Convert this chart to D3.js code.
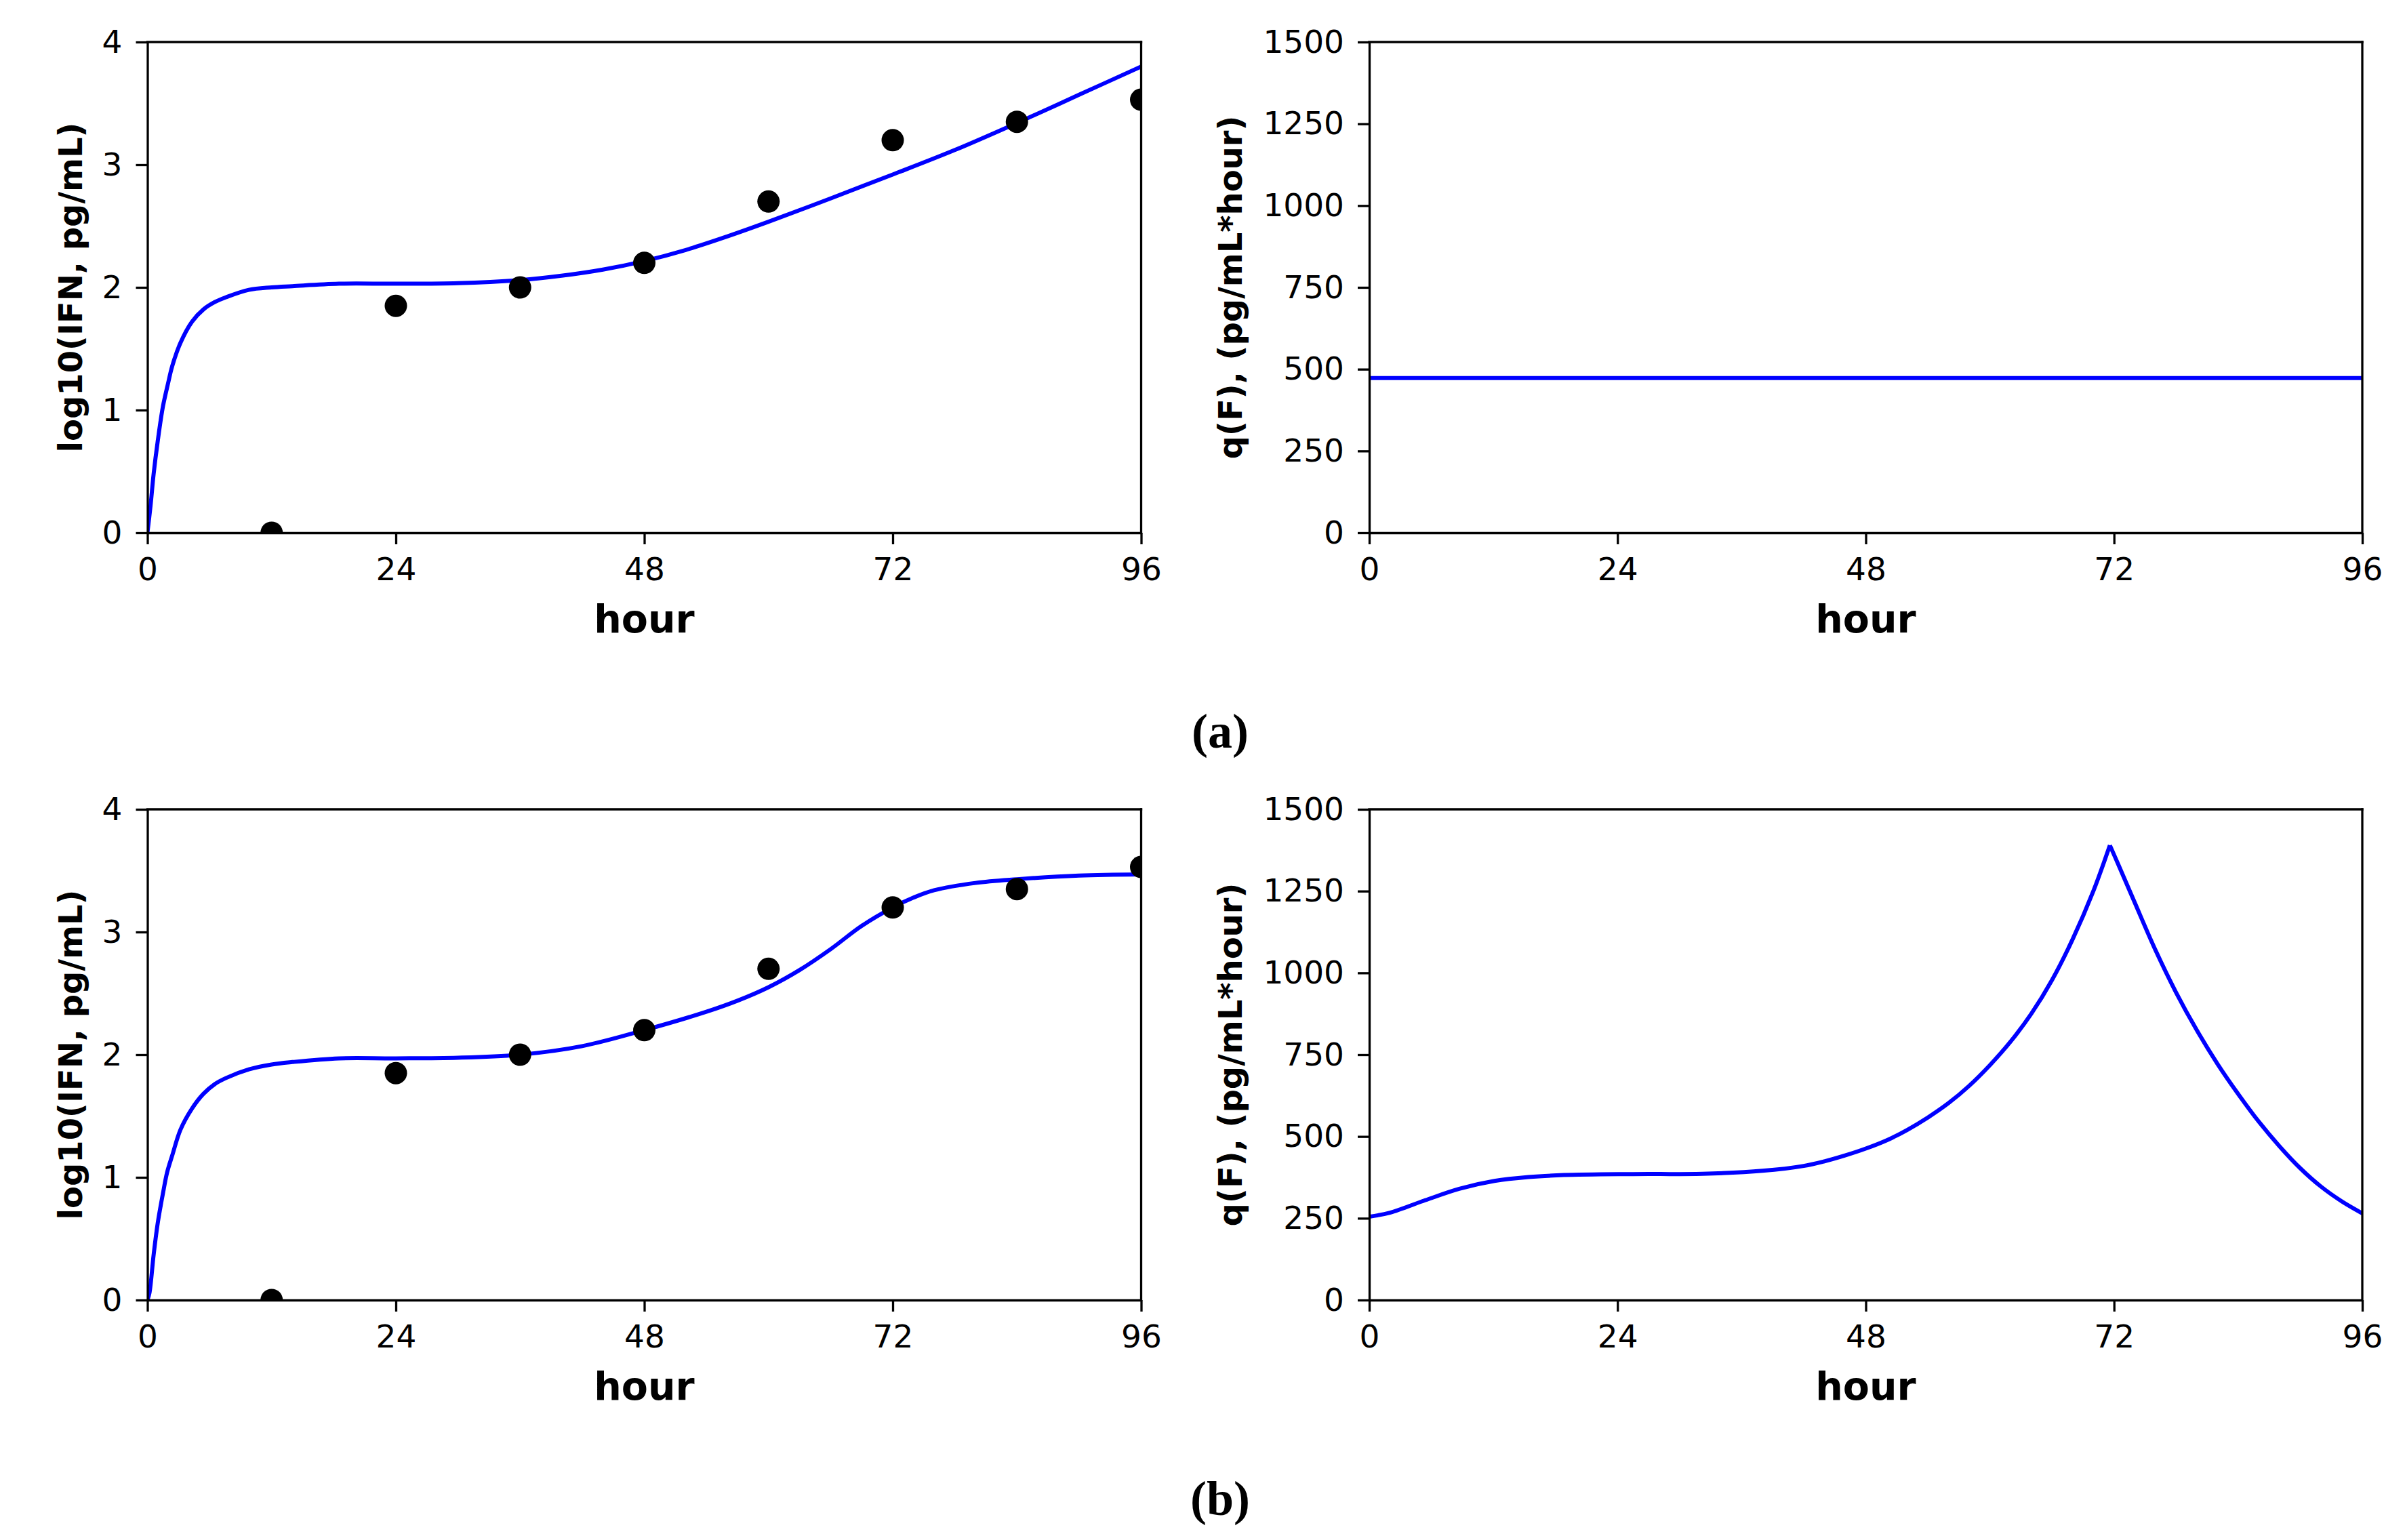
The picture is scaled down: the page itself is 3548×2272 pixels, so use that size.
<!DOCTYPE html>
<html>
<head>
<meta charset="utf-8">
<script src="https://cdn.jsdelivr.net/npm/d3@7"></script>
<style>
  html, body { margin: 0; padding: 0; background: #fff; }
  svg { display: block; }
</style>
</head>
<body>
<svg id="chart" width="3548" height="2272"></svg>
<script>
// ---------------- DATA ----------------
const obsHours = [12, 24, 36, 48, 60, 72, 84, 96];
const obsLogIFN = [0, 1.85, 2.0, 2.2, 2.7, 3.2, 3.35, 3.53];

// (a) model fit, left panel
const fitHoursA = [0, 0.3, 0.6, 1, 1.5, 2, 2.4, 3.2, 4.3, 5.4, 6.5, 7.6, 9.8, 12, 14, 18.5, 24, 30, 36, 40, 44, 48, 52, 56, 60, 66, 72, 78, 84, 90, 96];
const fitLogIFNA = [0, 0.22, 0.48, 0.75, 1.03, 1.22, 1.36, 1.55, 1.72, 1.82, 1.88, 1.92, 1.98, 2.0, 2.01, 2.03, 2.03, 2.035, 2.06, 2.095, 2.145, 2.215, 2.305, 2.415, 2.535, 2.725, 2.92, 3.12, 3.34, 3.57, 3.8];

// (a) q(F), right panel (constant)
const qHoursA = [0, 96];
const qValuesA = [473, 473];

// (b) model fit, left panel
const fitHoursB = [0, 0.2, 0.6, 1, 1.5, 1.9, 2.4, 3.2, 4.3, 5.4, 6.5, 7.6, 9.8, 12, 14, 18.5, 24, 30, 36, 42, 48, 54, 57, 60, 63, 66, 69, 72, 74, 76, 80, 84, 90, 96];
const fitLogIFNB = [0, 0.06, 0.37, 0.63, 0.87, 1.04, 1.18, 1.39, 1.56, 1.68, 1.76, 1.81, 1.88, 1.92, 1.94, 1.97, 1.97, 1.975, 2.0, 2.07, 2.2, 2.35, 2.44, 2.55, 2.69, 2.86, 3.05, 3.20, 3.28, 3.34, 3.40, 3.43, 3.46, 3.47];

// (b) q(F), right panel
const qHoursB = [0, 2, 5.4, 8.7, 12.1, 15.4, 18.8, 25.5, 32.2, 38, 42, 44, 46, 48, 50, 52, 54, 56, 58, 60, 62, 64, 66, 68, 70, 71.6, 72.5, 74, 76, 78, 80, 82, 84, 86, 88, 90, 92, 94, 96];
const qValuesB = [255, 267, 305, 340, 364, 376, 382, 385, 386, 395, 410, 424, 442, 463, 488, 520, 558, 602, 655, 718, 790, 875, 978, 1103, 1250, 1390, 1325, 1215, 1070, 940, 825, 722, 630, 545, 470, 403, 347, 302, 265];

const hourTicks = [0, 24, 48, 72, 96];
const ifnTicks = [0, 1, 2, 3, 4];
const qTicks = [0, 250, 500, 750, 1000, 1250, 1500];

const xLabel = "hour";
const ifnLabel = "log10(IFN, pg/mL)";
const qLabel = "q(F), (pg/mL*hour)";
const panelTags = ["(a)", "(b)"];

// ---------------- LAYOUT ----------------
const svg = d3.select("#chart");
svg.append("rect").attr("width", 3548).attr("height", 2272).attr("fill", "#fff");

const rowTops = [62, 1194];
const plotH = 724;
const colLeft = [217.5, 2020];
const plotW = [1466, 1465];
const tickFont = "DejaVu Sans, sans-serif";
const blue = "#0000ff";

function drawPanel(row, col, yDomain, yTicks, yLab, ylabX, series, dots) {
  const top = rowTops[row], left = colLeft[col], w = plotW[col];
  const x = d3.scaleLinear().domain([0, 96]).range([left, left + w]);
  const y = d3.scaleLinear().domain(yDomain).range([top + plotH, top]);
  const id = `clip-${row}-${col}`;
  svg.append("clipPath").attr("id", id).append("rect")
    .attr("x", left).attr("y", top).attr("width", w).attr("height", plotH);

  const g = svg.append("g");
  const plot = g.append("g").attr("clip-path", `url(#${id})`);

  series.forEach(s => {
    const pts = s.t.map((t, i) => [t, s.v[i]]);
    let segs = [pts];
    if (s.splitAtMax) {
      const im = d3.maxIndex(pts, d => d[1]);
      segs = [pts.slice(0, im + 1), pts.slice(im)];
    }
    const line = d3.line().x(d => x(d[0])).y(d => y(d[1])).curve(d3.curveCatmullRom.alpha(0.5));
    segs.forEach(seg => {
      plot.append("path").attr("d", line(seg)).attr("fill", "none")
        .attr("stroke", blue).attr("stroke-width", 6)
        .attr("stroke-linejoin", "miter").attr("stroke-linecap", "butt");
    });
  });

  if (dots) {
    plot.selectAll("circle.obs").data(dots.t.map((t, i) => [t, dots.v[i]]))
      .enter().append("circle").attr("class", "obs")
      .attr("cx", d => x(d[0])).attr("cy", d => y(d[1])).attr("r", 16.5)
      .attr("fill", "#000");
  }

  const ax = g.append("g").attr("transform", `translate(0,${top + plotH})`)
    .call(d3.axisBottom(x).tickValues(hourTicks).tickSize(17).tickSizeOuter(0).tickPadding(20).tickFormat(d3.format("d")));
  const ay = g.append("g").attr("transform", `translate(${left},0)`)
    .call(d3.axisLeft(y).tickValues(yTicks).tickSize(17).tickSizeOuter(0).tickPadding(20).tickFormat(d3.format("d")));
  [ax, ay].forEach(a => {
    a.select(".domain").attr("stroke", "#000").attr("stroke-width", 3.3);
    a.selectAll(".tick line").attr("stroke", "#000").attr("stroke-width", 3.3);
    a.selectAll(".tick text").attr("fill", "#000").style("font-family", tickFont).style("font-size", "47px");
  });
  g.append("line").attr("x1", x(0)).attr("x2", x(96)).attr("y1", y(yDomain[1])).attr("y2", y(yDomain[1]))
    .attr("stroke", "#000").attr("stroke-width", 3.3).attr("stroke-linecap", "square");
  g.append("line").attr("x1", x(96)).attr("x2", x(96)).attr("y1", y(yDomain[0])).attr("y2", y(yDomain[1]))
    .attr("stroke", "#000").attr("stroke-width", 3.3).attr("stroke-linecap", "square");

  g.append("text").attr("x", left + w / 2).attr("y", top + plotH + 147)
    .attr("text-anchor", "middle").style("font-family", tickFont).style("font-weight", "bold")
    .style("font-size", "57px").text(xLabel);
  g.append("text").attr("transform", `translate(${ylabX},${top + plotH / 2}) rotate(-90)`)
    .attr("text-anchor", "middle").style("font-family", tickFont).style("font-weight", "bold")
    .style("font-size", "48px").text(yLab);
}

drawPanel(0, 0, [0, 4], ifnTicks, ifnLabel, 121,
  [{ t: fitHoursA, v: fitLogIFNA }], { t: obsHours, v: obsLogIFN });
drawPanel(0, 1, [0, 1500], qTicks, qLabel, 1832,
  [{ t: qHoursA, v: qValuesA }], null);
drawPanel(1, 0, [0, 4], ifnTicks, ifnLabel, 121,
  [{ t: fitHoursB, v: fitLogIFNB }], { t: obsHours, v: obsLogIFN });
drawPanel(1, 1, [0, 1500], qTicks, qLabel, 1832,
  [{ t: qHoursB, v: qValuesB, splitAtMax: true }], null);

[1103, 2235].forEach((yy, i) => {
  svg.append("text").attr("x", 1800).attr("y", yy).attr("text-anchor", "middle")
    .style("font-family", "Liberation Serif, DejaVu Serif, serif").style("font-weight", "bold")
    .style("font-size", "72px").text(panelTags[i]);
});
</script>
</body>
</html>
